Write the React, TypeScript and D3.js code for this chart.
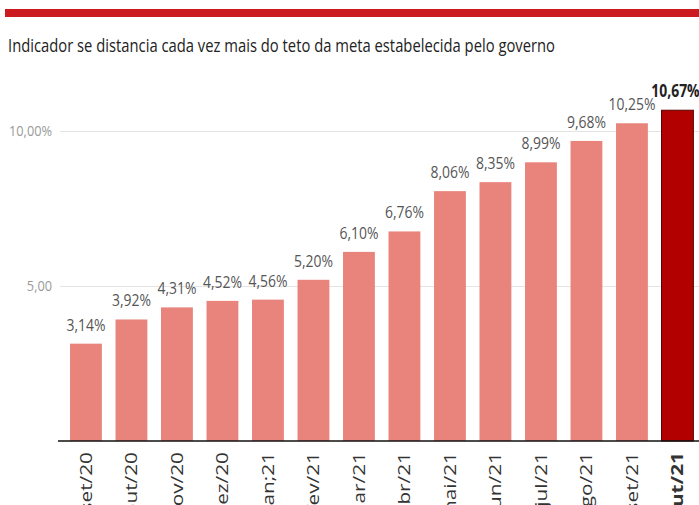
import { axisBottom, axisLeft, scaleBand, scaleLinear, select } from "d3";
import React, { useEffect, useRef } from "react";

const months = [
    "set/20",
    "out/20",
    "nov/20",
    "dez/20",
    "jan;21",
    "fev/21",
    "mar/21",
    "abr/21",
    "mai/21",
    "jun/21",
    "jul/21",
    "ago/21",
    "set/21",
    "out/21",
];
const ipca = [3.14, 3.92, 4.31, 4.52, 4.56, 5.2, 6.1, 6.76, 8.06, 8.35, 8.99, 9.68, 10.25, 10.67];
const yTicks = [5, 10];
const yTickLabels = ["5,00", "10,00%"];
const title = "Indicador se distancia cada vez mais do teto da meta estabelecida pelo governo";

const fmt = (v: number) => v.toFixed(2).replace(".", ",") + "%";

const App: React.FC = () => {
    const svgRef = useRef<SVGSVGElement>(null);

    useEffect(() => {
        if (svgRef.current) {
            svgRef.current.innerHTML = "";
        }

        const width = 699,
            height = 505;
        const margin = { top: 131, left: 60, bottom: 441 };
        const last = months[months.length - 1];

        const x = scaleBand<string>()
            .domain(months)
            .range([63.2, 700.2])
            .paddingInner(0.3)
            .paddingOuter(0.15);

        const y = scaleLinear()
            .domain([0, 10])
            .range([margin.bottom, margin.top]);

        const svg = select(svgRef.current)
            .attr("width", width)
            .attr("height", height)
            .style("font-family", "'Open Sans', sans-serif");

        // red strip on top
        svg.append("rect")
            .attr("x", 5)
            .attr("y", 9)
            .attr("width", width - 5)
            .attr("height", 8)
            .attr("fill", "#cc1b20");

        svg.append("text")
            .attr("x", 8)
            .attr("y", 52)
            .attr("font-size", 19)
            .attr("fill", "#222")
            .attr("textLength", 547)
            .attr("lengthAdjust", "spacingAndGlyphs")
            .text(title);

        // gridlines + y labels
        svg.append("g")
            .attr("transform", "translate(" + margin.left + ",0)")
            .call(
                axisLeft(y)
                    .tickValues(yTicks)
                    .tickSize(-(width - margin.left))
                    .tickPadding(8)
                    .tickFormat((d, i) => yTickLabels[i]),
            )
            .call(g => g.select(".domain").remove())
            .call(g => g.selectAll(".tick line").attr("stroke", "#e4e4e4"))
            .call(g =>
                g
                    .selectAll(".tick text")
                    .attr("fill", "#9a9a9a")
                    .attr("font-size", 15)
                    .attr("font-family", "'Open Sans', sans-serif")
                    .attr("transform", "scale(0.85,1)")
                    .attr("x", -8 / 0.85),
            );

        // bars
        svg.selectAll(".bar")
            .data(ipca)
            .enter()
            .append("rect")
            .attr("x", (d, i) => x(months[i])!)
            .attr("y", d => y(d))
            .attr("width", x.bandwidth())
            .attr("height", d => y(0) - y(d))
            .attr("fill", (d, i) => (months[i] === last ? "#b20000" : "#e9847c"))
            .attr("stroke", (d, i) => (months[i] === last ? "#5a0000" : "none"))
            .attr("stroke-width", 1);

        // value labels
        svg.selectAll(".val")
            .data(ipca)
            .enter()
            .append("text")
            .attr(
                "transform",
                (d, i) =>
                    "translate(" +
                    (x(months[i])! + x.bandwidth() / 2 - (months[i] === last ? 2 : 0)) +
                    "," +
                    (y(d) - 13) +
                    ") scale(0.82,1)",
            )
            .attr("text-anchor", "middle")
            .attr("font-size", 17)
            .attr("font-weight", (d, i) => (months[i] === last ? 700 : 400))
            .attr("fill", (d, i) => (months[i] === last ? "#222" : "#555"))
            .text(d => fmt(d));

        // x axis
        svg.append("g")
            .attr("transform", "translate(0," + margin.bottom + ")")
            .call(axisBottom(x).tickSize(0).tickPadding(0))
            .call(g =>
                g
                    .select(".domain")
                    .attr("stroke", "#111")
                    .attr("stroke-width", 1.5)
                    .attr("d", "M" + (margin.left - 2) + ",0H" + width),
            )
            .call(g =>
                g
                    .selectAll(".tick text")
                    .attr("font-size", 16)
                    .attr("font-family", "'Open Sans', sans-serif")
                    .attr("fill", "#333")
                    .attr("font-weight", (d: any) => (d === last ? 700 : 400))
                    .attr("text-anchor", "end")
                    .attr("transform", "rotate(-90) scale(1.3,1)")
                    .attr("x", -11 / 1.3)
                    .attr("y", 0)
                    .attr("dy", "0.35em"),
            );
    }, []);

    return (
        <svg
            ref={svgRef}
            style={{ position: "absolute", left: 0, top: 0, display: "block", background: "#fff" }}
        ></svg>
    );
};

export default App;
